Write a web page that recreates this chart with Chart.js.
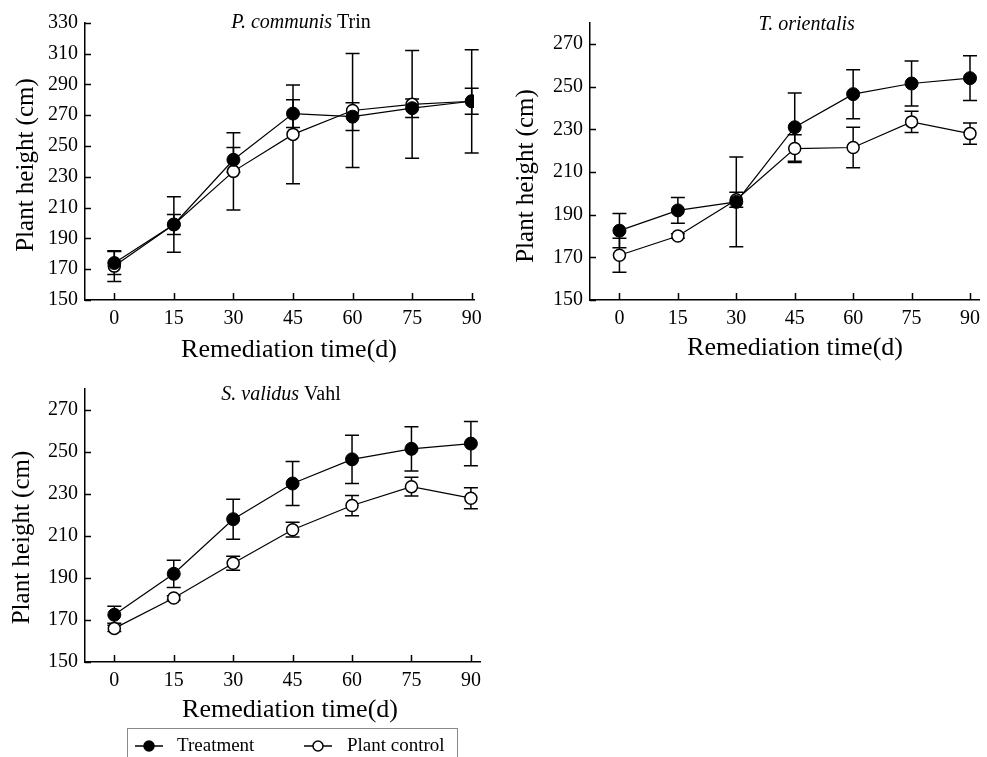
<!DOCTYPE html>
<html>
<head>
<meta charset="utf-8">
<script src="https://cdn.jsdelivr.net/npm/chart.js@4/dist/chart.umd.min.js"></script>
<style>
  html, body { margin: 0; padding: 0; background: #fff; }
  body { width: 987px; height: 757px; position: relative; overflow: hidden; }
  canvas { position: absolute; }
</style>
</head>
<body>
<canvas id="c1" width="490" height="370" style="left:0;top:0"></canvas>
<canvas id="c2" width="487" height="370" style="left:500px;top:0"></canvas>
<canvas id="c3" width="490" height="387" style="left:0;top:370px"></canvas>
<script>
// ---------- data ----------
const days = [0, 15, 30, 45, 60, 75, 90];
const xTicks = [0, 15, 30, 45, 60, 75, 90];
const yTicksP = [150, 170, 190, 210, 230, 250, 270, 290, 310, 330];
const yTicksTS = [150, 170, 190, 210, 230, 250, 270];
const seriesNames = ['Treatment', 'Plant control'];

// P. communis Trin
const pcTreat    = [174, 199, 241, 271, 269, 274.5, 279];
const pcTreatErr = [7.5, 18, 8, 9, 9, 6, 8.5];
const pcCtrl     = [172, 199, 233.5, 257.5, 273, 277, 279];
const pcCtrlErr  = [10, 6.5, 25, 32, 37, 35, 33.5];

// T. orientalis
const toTreat    = [182.5, 192, 196, 231, 246.5, 251.5, 254];
const toTreatErr = [8, 6, 21, 16, 11.5, 10.5, 10.5];
const toCtrl     = [171, 180, 197, 221, 221.5, 233.5, 228];
const toCtrlErr  = [8, 1, 3.5, 6.5, 9.5, 5, 5];

// S. validus Vahl
const svTreat    = [172.5, 192, 218, 235, 246.5, 251.5, 254];
const svTreatErr = [4, 6.5, 9.5, 10.5, 11.5, 10.5, 10.5];
const svCtrl     = [166, 180.5, 197, 213, 224.5, 233.5, 228];
const svCtrlErr  = [1.5, 1, 3.3, 3.5, 4.8, 4.5, 5];

const yTitle = 'Plant height (cm)';
const xTitle = 'Remediation time(d)';
const SERIF = '"Liberation Serif", "Times New Roman", serif';

// ---------- plugins ----------
const errorBars = {
  id: 'errorBars',
  beforeDatasetsDraw(chart) {
    const ctx = chart.ctx, xs = chart.scales.x, ys = chart.scales.y;
    ctx.save();
    ctx.strokeStyle = '#000';
    ctx.lineWidth = 1.5;
    chart.data.datasets.forEach(ds => {
      ds.data.forEach((p, i) => {
        const e = ds.errors[i];
        const px = xs.getPixelForValue(p.x);
        const top = ys.getPixelForValue(p.y + e);
        const bot = ys.getPixelForValue(p.y - e);
        ctx.beginPath();
        ctx.moveTo(px, top); ctx.lineTo(px, bot);
        ctx.moveTo(px - 7, top); ctx.lineTo(px + 7, top);
        ctx.moveTo(px - 7, bot); ctx.lineTo(px + 7, bot);
        ctx.stroke();
      });
    });
    ctx.restore();
  }
};

const innerTicks = {
  id: 'innerTicks',
  afterDraw(chart) {
    const ctx = chart.ctx, xs = chart.scales.x, ys = chart.scales.y, a = chart.chartArea;
    ctx.save();
    ctx.strokeStyle = '#000';
    ctx.lineWidth = 1.5;
    ctx.beginPath();
    xs.ticks.forEach(t => {
      const px = Math.round(xs.getPixelForValue(t.value)) + 0.5;
      ctx.moveTo(px, a.bottom); ctx.lineTo(px, a.bottom - 7);
    });
    ys.ticks.forEach(t => {
      const py = Math.round(ys.getPixelForValue(t.value)) + 0.5;
      ctx.moveTo(a.left, py); ctx.lineTo(a.left + 6, py);
    });
    ctx.stroke();
    ctx.restore();
  }
};

const panelText = {
  id: 'panelText',
  afterDraw(chart, args, o) {
    const ctx = chart.ctx;
    ctx.save();
    ctx.fillStyle = '#000';
    ctx.textBaseline = 'middle';
    // panel title with italic + upright parts
    let total = 0;
    const widths = o.title.map(([txt, it]) => {
      ctx.font = (it ? 'italic ' : '') + '20px ' + SERIF;
      const w = ctx.measureText(txt).width; total += w; return w;
    });
    let x = o.titleX - total / 2;
    ctx.textAlign = 'left';
    o.title.forEach(([txt, it], i) => {
      ctx.font = (it ? 'italic ' : '') + '20px ' + SERIF;
      ctx.fillText(txt, x, o.titleY);
      x += widths[i];
    });
    // x axis title
    ctx.textAlign = 'center';
    ctx.font = '26px ' + SERIF;
    ctx.fillText(xTitle, o.xTitleX, o.xTitleY);
    // y axis title
    ctx.font = '25px ' + SERIF;
    ctx.translate(o.yTitleX, o.yTitleY);
    ctx.rotate(-Math.PI / 2);
    ctx.fillText(yTitle, 0, 0);
    ctx.restore();
  }
};

const boxLegend = {
  id: 'boxLegend',
  afterDraw(chart, args, o) {
    if (!o.show) return;
    const ctx = chart.ctx;
    ctx.save();
    ctx.strokeStyle = '#8a8a8a';
    ctx.lineWidth = 1;
    ctx.strokeRect(o.left + 0.5, o.top + 0.5, o.width, 60);
    ctx.font = '19px ' + SERIF;
    ctx.textBaseline = 'middle';
    ctx.textAlign = 'left';
    chart.data.datasets.forEach((ds, i) => {
      const it = o.items[i];
      ctx.strokeStyle = '#000';
      ctx.lineWidth = 1.5;
      ctx.beginPath();
      ctx.moveTo(it.x - 14, o.y); ctx.lineTo(it.x + 14, o.y);
      ctx.stroke();
      ctx.beginPath();
      ctx.arc(it.x, o.y, 5, 0, Math.PI * 2);
      ctx.fillStyle = ds.pointBackgroundColor;
      ctx.fill();
      ctx.stroke();
      ctx.fillStyle = '#000';
      ctx.fillText(ds.label, it.tx, o.y);
    });
    ctx.restore();
  }
};

// ---------- builder ----------
function pts(vals) { return days.map((d, i) => ({ x: d, y: vals[i] })); }

function makeChart(id, cfg) {
  const tickFont = { family: SERIF, size: 20 };
  return new Chart(document.getElementById(id), {
    type: 'scatter',
    data: {
      datasets: [
        { label: seriesNames[0], data: pts(cfg.treat), errors: cfg.treatErr,
          showLine: true, borderColor: '#000', borderWidth: 1.2,
          pointRadius: 6.5, pointBackgroundColor: '#000', pointBorderColor: '#000', pointBorderWidth: 1 },
        { label: seriesNames[1], data: pts(cfg.ctrl), errors: cfg.ctrlErr,
          showLine: true, borderColor: '#000', borderWidth: 1.2,
          pointRadius: 6, pointBackgroundColor: '#fff', pointBorderColor: '#000', pointBorderWidth: 1.5 }
      ]
    },
    options: {
      responsive: false, animation: false, devicePixelRatio: 1,
      layout: { autoPadding: false, padding: { top: cfg.top, right: cfg.right, left: 0, bottom: 0 } },
      plugins: {
        legend: { display: false }, tooltip: { enabled: false },
        panelText: cfg.text,
        boxLegend: cfg.legend || { show: false }
      },
      scales: {
        x: {
          type: 'linear', min: cfg.xmin, max: cfg.xmax,
          afterBuildTicks: s => { s.ticks = xTicks.map(v => ({ value: v })); },
          afterFit: s => { s.height = cfg.xh; },
          grid: { display: true, drawOnChartArea: false, drawTicks: false },
          border: { display: true, color: '#000', width: 1.5 },
          ticks: { font: tickFont, color: '#000', padding: 7, maxRotation: 0, autoSkip: false }
        },
        y: {
          type: 'linear', min: cfg.ymin, max: cfg.ymax,
          afterBuildTicks: s => { s.ticks = cfg.yTicks.map(v => ({ value: v })); },
          afterFit: s => { s.width = cfg.yw; },
          grid: { display: true, drawOnChartArea: false, drawTicks: false },
          border: { display: true, color: '#000', width: 1.5 },
          ticks: { font: tickFont, color: '#000', padding: 7, autoSkip: false }
        }
      }
    },
    plugins: [errorBars, innerTicks, panelText, boxLegend]
  });
}

makeChart('c1', {
  treat: pcTreat, treatErr: pcTreatErr, ctrl: pcCtrl, ctrlErr: pcCtrlErr,
  xmin: -7.38, xmax: 90.58, ymin: 150, ymax: 330, yTicks: yTicksP,
  top: 22.7, right: 16, yw: 85, xh: 70,
  text: { title: [['P. communis', true], [' Trin', false]], titleX: 301, titleY: 22.5,
          xTitleX: 289, xTitleY: 350, yTitleX: 26, yTitleY: 165 }
});

makeChart('c2', {
  treat: toTreat, treatErr: toTreatErr, ctrl: toCtrl, ctrlErr: toCtrlErr,
  xmin: -7.56, xmax: 92.5, ymin: 150, ymax: 280, yTicks: yTicksTS,
  top: 22.7, right: 0, yw: 90, xh: 70,
  text: { title: [['T. orientalis', true]], titleX: 306.7, titleY: 25,
          xTitleX: 295, xTitleY: 348, yTitleX: 26, yTitleY: 176 }
});

makeChart('c3', {
  treat: svTreat, treatErr: svTreatErr, ctrl: svCtrl, ctrlErr: svCtrlErr,
  xmin: -7.4, xmax: 92.3, ymin: 150, ymax: 280, yTicks: yTicksTS,
  top: 13.3, right: 10, yw: 85, xh: 95,
  text: { title: [['S. validus', true], [' Vahl', false]], titleX: 281, titleY: 25,
          xTitleX: 290, xTitleY: 340, yTitleX: 22.5, yTitleY: 167.5 },
  legend: { show: true, left: 127, top: 358, width: 330, y: 376,
            items: [{ x: 149, tx: 177 }, { x: 318, tx: 347 }] }
});
</script>
</body>
</html>
